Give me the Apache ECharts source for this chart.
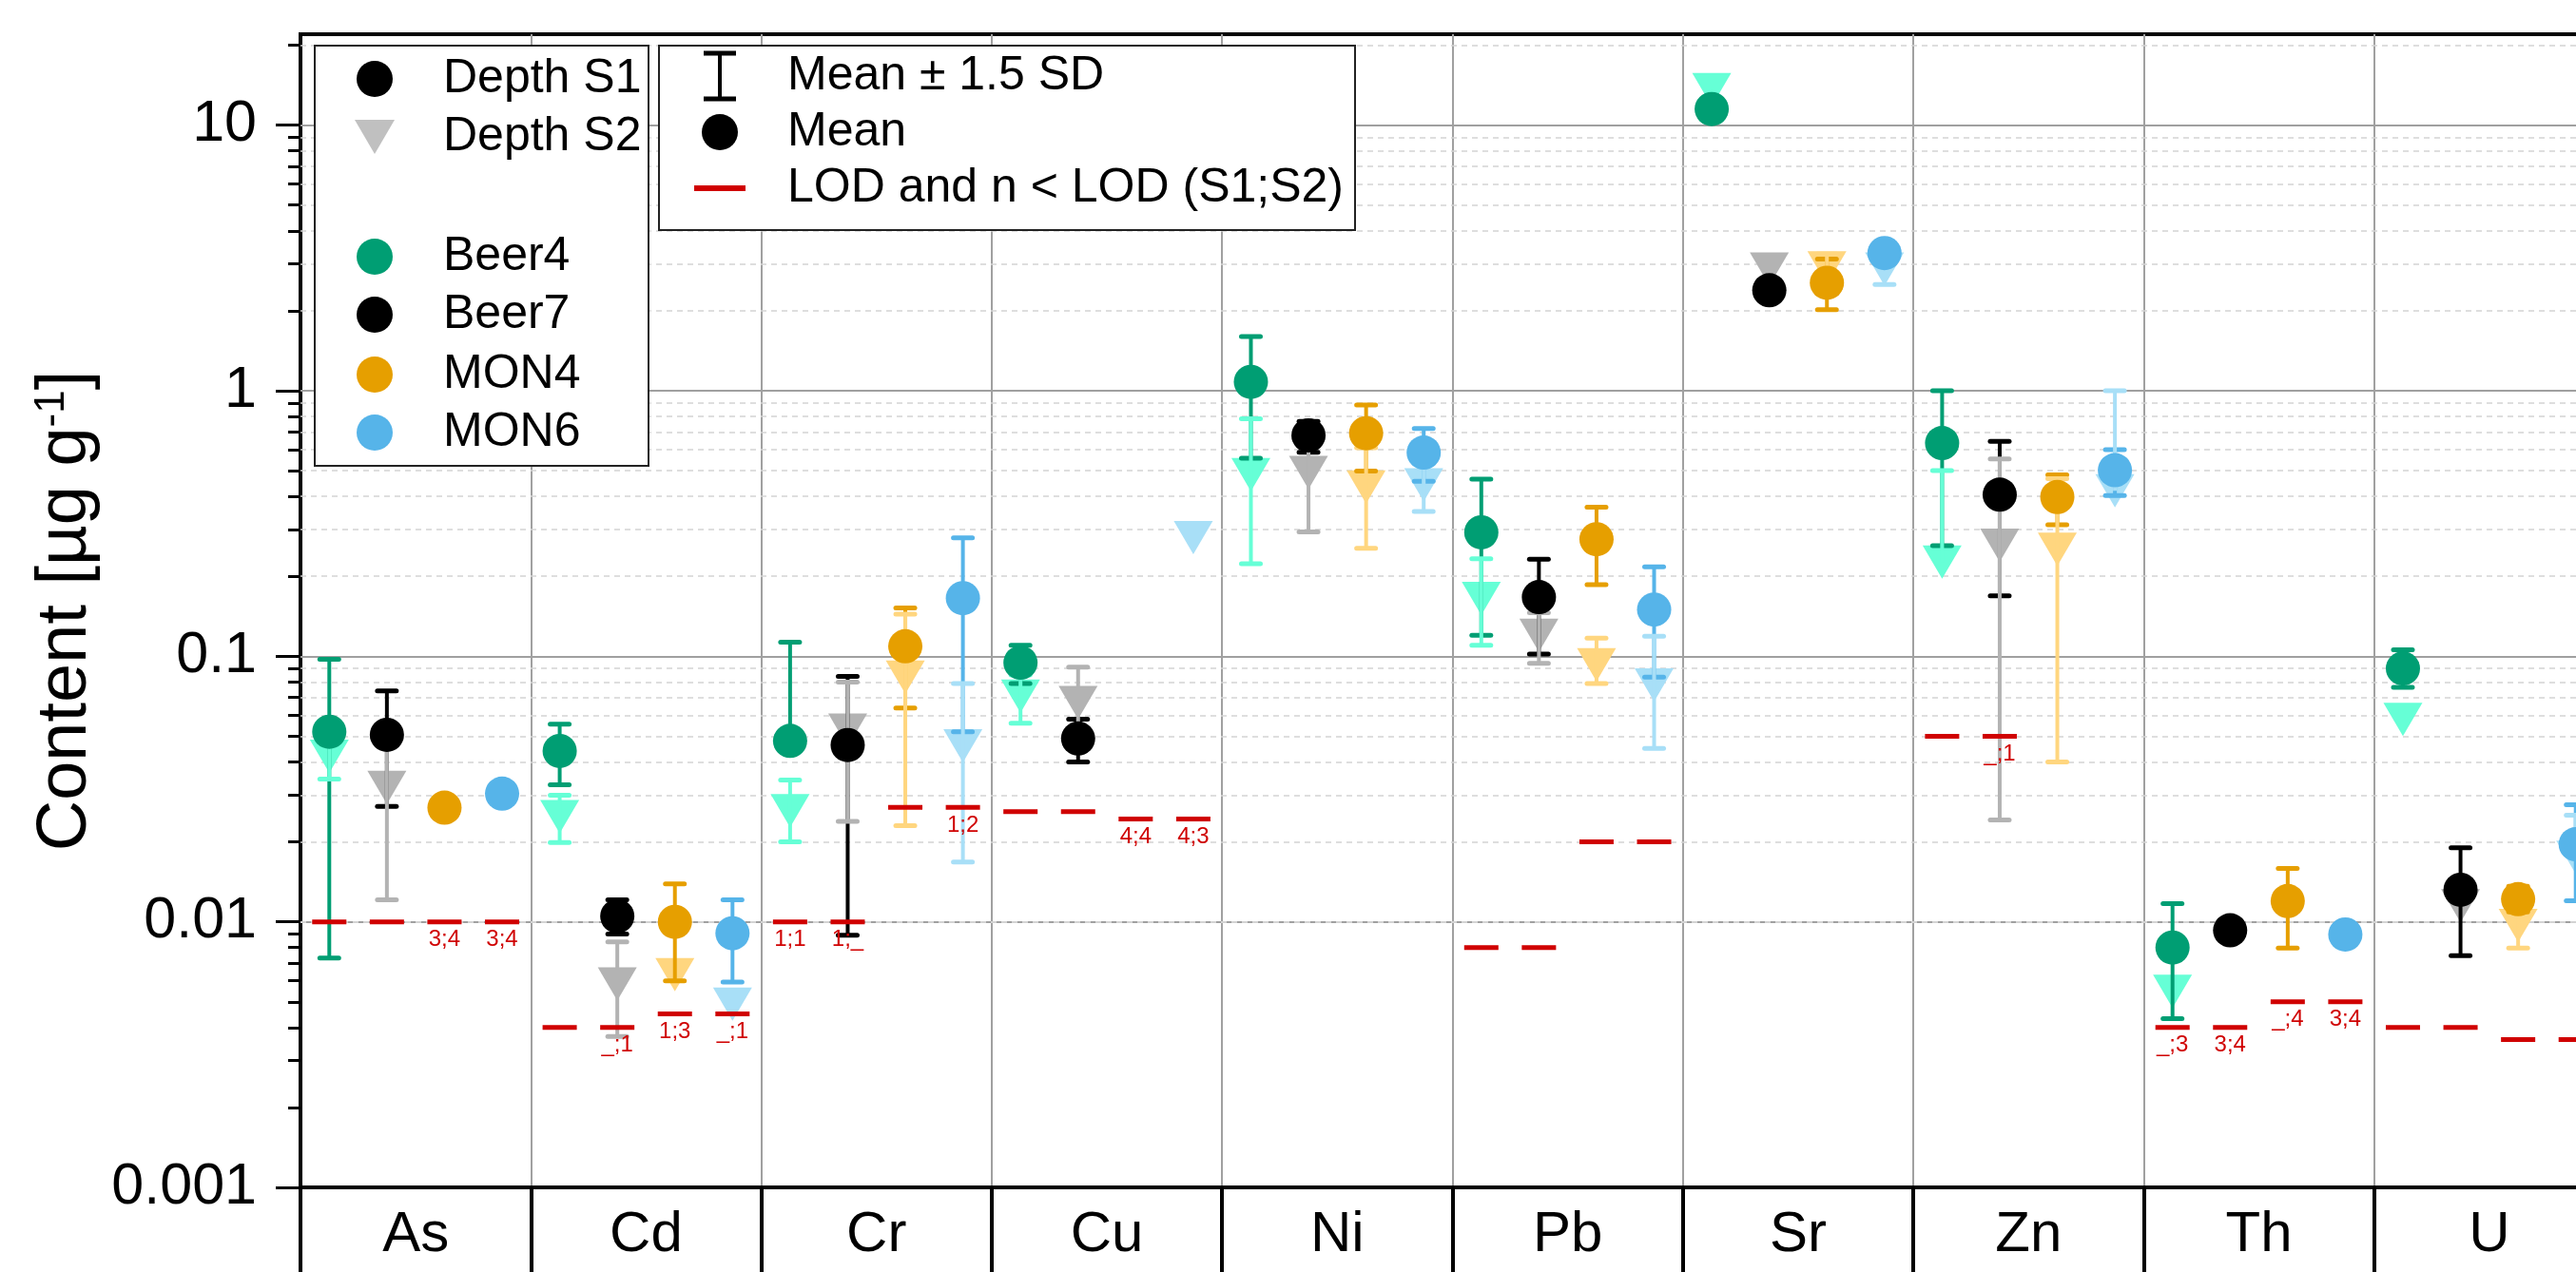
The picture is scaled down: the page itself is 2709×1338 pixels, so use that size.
<!DOCTYPE html>
<html><head><meta charset="utf-8">
<script src="https://cdn.jsdelivr.net/npm/echarts@6/dist/echarts.min.js"></script>
<style>html,body{margin:0;padding:0;background:#fff;overflow:hidden}
#wrap{width:2709px;height:1338px;overflow:hidden;position:relative}
#c{width:2739px;height:1338px;position:absolute;left:0;top:0}</style>
</head><body><div id="wrap"><div id="c"></div></div>
<script>
// ---------- data ----------
const categories = ['As','Cd','Cr','Cu','Ni','Pb','Sr','Zn','Th','U'];
const samples = ['Beer4','Beer7','MON4','MON6'];
const yMajorTicks = [0.001, 0.01, 0.1, 1, 10];
const yMinorTicks = [0.002,0.003,0.004,0.005,0.006,0.007,0.008,0.009,
                     0.02,0.03,0.04,0.05,0.06,0.07,0.08,0.09,
                     0.2,0.3,0.4,0.5,0.6,0.7,0.8,0.9,
                     2,3,4,5,6,7,8,9,20];

// Depth S1 mean and mean ± 1.5 SD
const beer4S1   = [0.052, 0.044, 0.048, 0.0946, 1.08, 0.293, 11.5, 0.635, 0.0080, 0.090];
const beer4S1Lo = [0.0073, 0.0328, null, 0.079, 0.557, 0.120, null, 0.261, 0.00432, 0.0764];
const beer4S1Hi = [0.0975, 0.0555, 0.113, 0.110, 1.60, 0.465, null, 1.0, 0.0117, 0.1057];
const beer7S1   = [0.0506, 0.0105, 0.0463, 0.049, 0.679, 0.167, 2.39, 0.406, 0.00929, 0.0132];
const beer7S1Lo = [0.0272, 0.0090, 0.0089, 0.040, 0.586, 0.102, null, 0.169, null, 0.00745];
const beer7S1Hi = [0.074, 0.0121, 0.084, 0.058, 0.767, 0.232, null, 0.644, null, 0.019];
const mon4S1    = [0.0269, 0.0100, 0.109, null, 0.692, 0.276, 2.55, 0.398, 0.01197, 0.01217];
const mon4S1Lo  = [null, 0.0060, 0.0638, null, 0.498, 0.186, 2.02, 0.313, 0.00796, 0.0109];
const mon4S1Hi  = [null, 0.0139, 0.152, null, 0.883, 0.364, 3.13, 0.482, 0.0159, 0.0136];
const mon6S1    = [0.0304, 0.00906, 0.1655, null, 0.585, 0.150, 3.30, 0.502, 0.00896, 0.0196];
const mon6S1Lo  = [null, 0.00593, 0.052, null, 0.456, 0.0834, null, 0.403, null, 0.0120];
const mon6S1Hi  = [null, 0.0121, 0.279, null, 0.72, 0.217, null, 0.60, null, 0.0276];

// Depth S2 mean and mean ± 1.5 SD
const beer4S2   = [0.042, 0.0249, 0.0262, 0.0708, 0.483, 0.165, 13.6, 0.2265, 0.00547, 0.0578];
const beer4S2Lo = [0.0345, 0.0199, 0.020, 0.056, 0.223, 0.110, null, null, null, null];
const beer4S2Hi = [0.049, 0.030, 0.0342, 0.085, 0.784, 0.233, null, 0.50, null, null];
const beer7S2   = [0.0321, 0.00583, 0.0527, 0.067, 0.492, 0.120, 2.87, 0.262, null, 0.0115];
const beer7S2Lo = [0.0121, 0.0037, 0.0239, 0.050, 0.294, 0.094, null, 0.0242, null, null];
const beer7S2Hi = [0.052, 0.0084, 0.080, 0.091, 0.69, 0.146, null, 0.553, null, null];
const mon4S2    = [null, 0.00633, 0.0835, null, 0.434, 0.093, 2.90, 0.253, null, 0.00968];
const mon4S2Lo  = [null, null, 0.023, null, 0.255, 0.079, null, 0.040, null, 0.00796];
const mon4S2Hi  = [null, null, 0.144, null, 0.61, 0.117, 3.27, 0.466, null, 0.0114];
const mon6S2    = [null, 0.0049, 0.046, 0.28, 0.442, 0.078, 2.87, 0.42, null, 0.0175];
const mon6S2Lo  = [null, null, 0.0168, null, 0.351, 0.045, 2.51, null, null, null];
const mon6S2Hi  = [null, null, 0.079, null, 0.53, 0.119, null, 1.0, null, 0.0252];

// LOD and n < LOD (S1;S2)
const beer4Lod = [0.01, 0.004, 0.01, 0.026, null, 0.008, null, 0.05, 0.004, 0.004];
const beer7Lod = [0.01, 0.004, 0.01, 0.026, null, 0.008, null, 0.05, 0.004, 0.004];
const mon4Lod  = [0.01, 0.0045, 0.027, 0.0244, null, 0.02, null, null, 0.005, 0.0036];
const mon6Lod  = [0.01, 0.0045, 0.027, 0.0244, null, 0.02, null, null, 0.005, 0.0036];
const beer4LodLabel = ['', '', '1;1', '', '', '', '', '', '_;3', ''];
const beer7LodLabel = ['', '_;1', '1;_', '', '', '', '', '_;1', '3;4', ''];
const mon4LodLabel  = ['3;4', '1;3', '', '4;4', '', '', '', '', '_;4', ''];
const mon6LodLabel  = ['3;4', '_;1', '1;2', '4;3', '', '', '', '', '3;4', ''];

// ---------- styling ----------
const FONT = '"Liberation Sans", Arial, sans-serif';
const RED = '#D00000';
const colS1 = ['#009E73', '#000000', '#E69F00', '#56B4E9'];
const colS2 = ['#66FFD6', '#B3B3B3', '#FFD67F', '#A8DFF7'];
const offsets = [-0.375, -0.125, 0.125, 0.375];

const S1 = [beer4S1, beer7S1, mon4S1, mon6S1];
const S1Lo = [beer4S1Lo, beer7S1Lo, mon4S1Lo, mon6S1Lo];
const S1Hi = [beer4S1Hi, beer7S1Hi, mon4S1Hi, mon6S1Hi];
const S2 = [beer4S2, beer7S2, mon4S2, mon6S2];
const S2Lo = [beer4S2Lo, beer7S2Lo, mon4S2Lo, mon6S2Lo];
const S2Hi = [beer4S2Hi, beer7S2Hi, mon4S2Hi, mon6S2Hi];
const LOD = [beer4Lod, beer7Lod, mon4Lod, mon6Lod];
const LODL = [beer4LodLabel, beer7LodLabel, mon4LodLabel, mon6LodLabel];

function pts(arr, j) {
  const out = [];
  arr.forEach((v, i) => { if (v != null) out.push([i + offsets[j], v]); });
  return out;
}
function barData(m, lo, hi, j) {
  const out = [];
  m.forEach((v, i) => {
    if (v == null) return;
    const l = lo[i] == null ? v : lo[i];
    const h = hi[i] == null ? v : hi[i];
    if (l === v && h === v) return;
    out.push([i + offsets[j], v, l, h]);
  });
  return out;
}
function errRender(color) {
  return function (params, api) {
    const x = api.value(0), m = api.value(1), lo = api.value(2), hi = api.value(3);
    const pl = api.coord([x, lo]), ph = api.coord([x, hi]);
    const ch = [{type: 'line', shape: {x1: pl[0], y1: pl[1], x2: ph[0], y2: ph[1]},
                 style: {stroke: color, lineWidth: 4}}];
    const cap = p => ({type: 'line', shape: {x1: p[0] - 10, y1: p[1], x2: p[0] + 10, y2: p[1]},
                       style: {stroke: color, lineWidth: 5, lineCap: 'round'}});
    if (lo < m) ch.push(cap(pl));
    if (hi > m) ch.push(cap(ph));
    return {type: 'group', children: ch};
  };
}

const series = [];
// gridlines (in data space)
series.push({
  type: 'scatter', xAxisIndex: 1, yAxisIndex: 0, data: [], silent: true, z: 1,
  markLine: {
    z: 1, silent: true, symbol: ['none', 'none'], label: {show: false}, animation: false,
    data: yMajorTicks.slice(1).map(v => ({yAxis: v, lineStyle: {color: '#A0A0A0', width: 2, type: 'solid'}}))
      .concat(yMinorTicks.map(v => ({yAxis: v, lineStyle: {color: '#D4D4D4', width: 1.5, type: [6, 5]}})))
  }
});
for (let j = 0; j < 4; j++) {
  series.push({
    name: samples[j] + ' S2', type: 'scatter', xAxisIndex: 1, yAxisIndex: 0, z: 2,
    data: pts(S2[j], j), symbol: 'triangle', symbolRotate: 180, symbolSize: [41, 35],
    itemStyle: {color: colS2[j], opacity: 1}, silent: true
  });
}
for (let j = 0; j < 4; j++) {
  series.push({
    name: samples[j] + ' S1 err', type: 'custom', xAxisIndex: 1, yAxisIndex: 0, z: 3,
    dimensions: ['x', 'm', 'lo', 'hi'], encode: {x: 0, y: [1, 2, 3]},
    data: barData(S1[j], S1Lo[j], S1Hi[j], j), renderItem: errRender(colS1[j]), silent: true
  });
}
for (let j = 0; j < 4; j++) {
  series.push({
    name: samples[j] + ' S2 err', type: 'custom', xAxisIndex: 1, yAxisIndex: 0, z: 4,
    dimensions: ['x', 'm', 'lo', 'hi'], encode: {x: 0, y: [1, 2, 3]},
    data: barData(S2[j], S2Lo[j], S2Hi[j], j), renderItem: errRender(colS2[j]), silent: true
  });
}
for (let j = 0; j < 4; j++) {
  series.push({
    name: samples[j] + ' S1', type: 'scatter', xAxisIndex: 1, yAxisIndex: 0, z: 5,
    data: pts(S1[j], j), symbol: 'circle', symbolSize: 36,
    itemStyle: {color: colS1[j], opacity: 1}, silent: true
  });
}
for (let j = 0; j < 4; j++) {
  const items = [], labs = [];
  LOD[j].forEach((v, i) => { if (v != null) { items.push([i + offsets[j], v]); labs.push(LODL[j][i]); } });
  series.push({
    name: samples[j] + ' LOD', type: 'custom', xAxisIndex: 1, yAxisIndex: 0, z: 6, silent: true,
    data: items,
    renderItem: (params, api) => {
      const p = api.coord([api.value(0), api.value(1)]);
      const ch = [{type: 'rect', shape: {x: p[0] - 18, y: p[1] - 2.5, width: 36, height: 5}, style: {fill: RED}}];
      const t = labs[params.dataIndex];
      if (t) ch.push({type: 'text', style: {text: t, x: p[0], y: p[1] + 7, align: 'center', verticalAlign: 'top',
                      fill: RED, fontSize: 24, fontFamily: FONT}});
      return {type: 'group', children: ch};
    }
  });
}

// ---------- legends (graphic) ----------
const L1x = 394, L1t = 466;
const legendText = (t, x, y) => ({type: 'text', style: {text: t, x: x, y: y, fill: '#000', fontSize: 50,
  fontFamily: FONT, align: 'left', verticalAlign: 'middle'}});
const graphic = [
  {type: 'rect', shape: {x: 331, y: 48, width: 351, height: 442}, style: {fill: '#fff', stroke: '#222', lineWidth: 2}},
  {type: 'circle', shape: {cx: L1x, cy: 83, r: 19}, style: {fill: '#000'}},
  legendText('Depth S1', L1t, 83),
  {type: 'polygon', shape: {points: [[L1x - 21, 126], [L1x + 21, 126], [L1x, 162]]}, style: {fill: '#C0C0C0'}},
  legendText('Depth S2', L1t, 144),
  {type: 'circle', shape: {cx: L1x, cy: 270, r: 19}, style: {fill: colS1[0]}},
  legendText(samples[0], L1t, 270),
  {type: 'circle', shape: {cx: L1x, cy: 331, r: 19}, style: {fill: colS1[1]}},
  legendText(samples[1], L1t, 331),
  {type: 'circle', shape: {cx: L1x, cy: 394, r: 19}, style: {fill: colS1[2]}},
  legendText(samples[2], L1t, 394),
  {type: 'circle', shape: {cx: L1x, cy: 455, r: 19}, style: {fill: colS1[3]}},
  legendText(samples[3], L1t, 455),

  {type: 'rect', shape: {x: 693, y: 48, width: 732, height: 194}, style: {fill: '#fff', stroke: '#222', lineWidth: 2}},
  {type: 'line', shape: {x1: 757, y1: 56, x2: 757, y2: 104}, style: {stroke: '#000', lineWidth: 4}},
  {type: 'line', shape: {x1: 740, y1: 56, x2: 774, y2: 56}, style: {stroke: '#000', lineWidth: 5}},
  {type: 'line', shape: {x1: 740, y1: 104, x2: 774, y2: 104}, style: {stroke: '#000', lineWidth: 5}},
  legendText('Mean \u00B1 1.5 SD', 828, 80),
  {type: 'circle', shape: {cx: 757, cy: 139, r: 19}, style: {fill: '#000'}},
  legendText('Mean', 828, 139),
  {type: 'rect', shape: {x: 730, y: 195, width: 54, height: 6}, style: {fill: RED}},
  legendText('LOD and n < LOD (S1;S2)', 828, 198)
].map(g => Object.assign({z: 100}, g));

// ---------- chart ----------
const chart = echarts.init(document.getElementById('c'), null, {renderer: 'canvas'});
chart.setOption({
  animation: false,
  backgroundColor: '#fff',
  textStyle: {fontFamily: FONT},
  grid: {left: 316, top: 36, width: 2423, height: 1213, show: true, borderColor: '#000', borderWidth: 4,
         backgroundColor: 'transparent', containLabel: false, outerBoundsMode: 'none'},
  xAxis: [
    {type: 'category', data: categories, position: 'bottom', boundaryGap: true,
     axisLine: {show: true, onZero: false, lineStyle: {color: '#000', width: 4}},
     axisTick: {show: true, interval: 0, length: 89, lineStyle: {color: '#000', width: 4}},
     axisLabel: {interval: 0, fontSize: 60, color: '#000', fontFamily: FONT, margin: 20},
     splitLine: {show: true, interval: 0, lineStyle: {color: '#A0A0A0', width: 2}}},
    {type: 'value', min: -0.5, max: 9.5, show: false, axisLine: {onZero: false}}
  ],
  yAxis: [
    {type: 'log', logBase: 10, min: 0.001, max: 22, position: 'left',
     axisLine: {show: true, onZero: false, lineStyle: {color: '#000', width: 4}},
     axisTick: {show: true, customValues: yMajorTicks, length: 26, lineStyle: {color: '#000', width: 3}},
     axisLabel: {customValues: yMajorTicks, formatter: v => String(v), fontSize: 61, color: '#000',
                 fontFamily: FONT, margin: 46},
     splitLine: {show: false},
     name: 'Content [\u00B5g g{sup|-1}]', nameLocation: 'middle', nameGap: 205, nameRotate: 90,
     nameTextStyle: {fontSize: 74, color: '#000', fontFamily: FONT,
                     rich: {sup: {fontSize: 44, verticalAlign: 'top', color: '#000', fontFamily: FONT}}}},
    {type: 'log', logBase: 10, min: 0.001, max: 22, position: 'left', offset: 0,
     axisLine: {show: false, onZero: false},
     axisTick: {show: true, customValues: yMinorTicks, length: 13, lineStyle: {color: '#000', width: 3}},
     axisLabel: {show: false}, splitLine: {show: false}}
  ],
  series: series,
  graphic: graphic
});
</script></body></html>
